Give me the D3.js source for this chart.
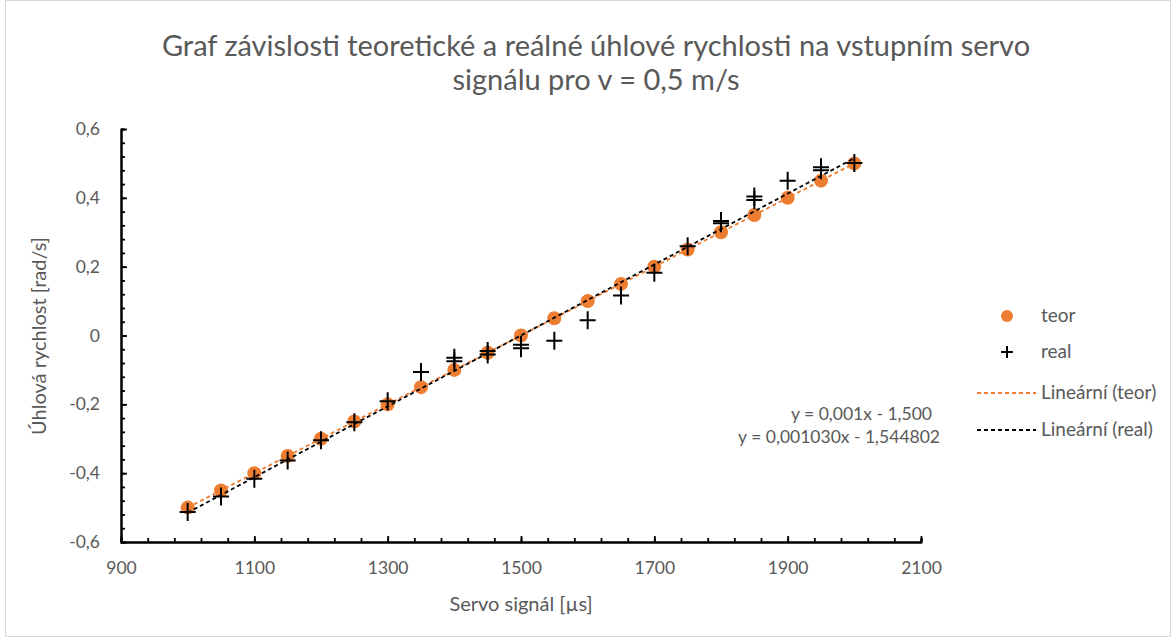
<!DOCTYPE html>
<html><head><meta charset="utf-8">
<script src="https://cdn.jsdelivr.net/npm/d3@7"></script>
<style>
html,body{margin:0;padding:0;background:#fff;}
text{font-family:Lato,"Open Sans",sans-serif;}
</style>
</head><body>
<svg id="chart" width="1176" height="639"></svg>
<script>
// ---------- DATA ----------
const titleLines = ["Graf závislosti teoretické a reálné úhlové rychlosti na vstupním servo", "signálu pro v = 0,5 m/s"];
const xTitle = "Servo signál [µs]";
const yTitle = "Úhlová rychlost [rad/s]";
const xTicks = [900, 1100, 1300, 1500, 1700, 1900, 2100];
const yTicks = [-0.6, -0.4, -0.2, 0, 0.2, 0.4, 0.6];
const teorX = [1000,1050,1100,1150,1200,1250,1300,1350,1400,1450,1500,1550,1600,1650,1700,1750,1800,1850,1900,1950,2000];
const teorY = [-0.50,-0.45,-0.40,-0.35,-0.30,-0.25,-0.20,-0.15,-0.10,-0.05,0.00,0.05,0.10,0.15,0.20,0.25,0.30,0.35,0.40,0.45,0.50];
const realX = [1000,1050,1100,1150,1200,1250,1300,1350,1400,1400,1450,1450,1500,1500,1550,1600,1650,1700,1750,1800,1800,1850,1850,1900,1950,1950,2000];
const realY = [-0.513,-0.468,-0.416,-0.363,-0.304,-0.252,-0.191,-0.106,-0.065,-0.075,-0.045,-0.055,-0.027,-0.037,-0.015,0.044,0.116,0.182,0.259,0.326,0.333,0.394,0.404,0.450,0.480,0.489,0.501];
const seriesNames = ["teor", "real", "Lineární (teor)", "Lineární (real)"];
const trendSlope = [0.001, 0.001030];
const trendIntercept = [-1.5, -1.544802];
const trendLabels = ["y = 0,001x - 1,500", "y = 0,001030x - 1,544802"];

// ---------- SETUP ----------
const svg = d3.select("#chart");
const orange = "#ED7D31", grey = "#595959";

svg.append("rect").attr("x",5.5).attr("y",0.5).attr("width",1165).attr("height",636)
  .attr("fill","#fff").attr("stroke","#D9D9D9").attr("stroke-width",1);

const x = d3.scaleLinear().domain([900,2100]).range([121,921]);
const y = d3.scaleLinear().domain([-0.6,0.6]).range([542,129]);

const loc = d3.formatLocale({decimal:",", thousands:" ", grouping:[3], currency:["",""], minus:"-"});
const fmtY = d => d === 0 ? "0" : loc.format(".1f")(d);

// Title
svg.append("g").selectAll("text").data(titleLines).join("text")
  .attr("x", 596).attr("y",(d,i)=>56+i*34)
  .attr("text-anchor","middle").attr("fill",grey).attr("font-size",29)
  .text(d=>d);

// minor ticks
const xMinor = d3.range(900, 2100.1, 40);
const yMinor = d3.range(-0.6, 0.6001, 0.04);

const gx = svg.append("g").attr("transform",`translate(0,${y(-0.6)})`);
gx.call(d3.axisBottom(x).tickValues(xMinor).tickSize(-4).tickFormat(""));
gx.selectAll("text").remove();
const gx2 = svg.append("g").attr("transform",`translate(0,${y(-0.6)})`);
gx2.call(d3.axisBottom(x).tickValues(xTicks).tickSizeInner(-6).tickSizeOuter(0).tickPadding(20).tickFormat(d3.format("d")));

const gy = svg.append("g").attr("transform",`translate(${x(900)},0)`);
gy.call(d3.axisLeft(y).tickValues(yMinor).tickSize(-4).tickFormat(""));
const gy2 = svg.append("g").attr("transform",`translate(${x(900)},0)`);
gy2.call(d3.axisLeft(y).tickValues(yTicks).tickSizeInner(-6).tickSizeOuter(0).tickPadding(21).tickFormat(fmtY));

[gx,gx2,gy,gy2].forEach(g=>{
  g.selectAll("path.domain").attr("stroke","#000").attr("stroke-width",2);
  g.selectAll(".tick line").attr("stroke","#000").attr("stroke-width",1.8);
  g.selectAll("text").attr("fill",grey).attr("font-size",17.5).attr("font-family","Lato");
});
gx2.selectAll("text").attr("dy","0.71em");

// axis titles
svg.append("text").attr("x",521).attr("y",611).attr("text-anchor","middle")
  .attr("fill",grey).attr("font-size",20).text(xTitle);
svg.append("text").attr("transform","translate(46,336) rotate(-90)").attr("text-anchor","middle")
  .attr("fill",grey).attr("font-size",20).text(yTitle);

// trend lines
const trendColors = [orange, "#000"];
const trendData = [0,1].map(i=>[1000,2000].map(v=>({x:v, y:trendSlope[i]*v+trendIntercept[i]})));
const line = d3.line().x(d=>x(d.x)).y(d=>y(d.y));

// teor points
svg.append("g").selectAll("circle").data(teorX.map((v,i)=>({x:v,y:teorY[i]}))).join("circle")
  .attr("cx",d=>x(d.x)).attr("cy",d=>y(d.y)).attr("r",7).attr("fill",orange);

svg.append("g").selectAll("path").data(trendData).join("path")
  .attr("d",line).attr("fill","none").attr("stroke",(d,i)=>trendColors[i])
  .attr("stroke-width",1.8).attr("stroke-dasharray","4,3");

// real points (plus)
const realG = svg.append("g");
realX.forEach((v,i)=>{
  const cx = x(v), cy = y(realY[i]);
  realG.append("path").attr("d",`M${cx-8},${cy}H${cx+8}M${cx},${cy-9}V${cy+9}`)
    .attr("stroke","#000").attr("stroke-width",2).attr("fill","none");
});

// equations
svg.append("g").selectAll("text").data(trendLabels).join("text")
  .attr("x",(d,i)=>[932,940][i]).attr("y",(d,i)=>420+i*23)
  .attr("text-anchor","end").attr("fill",grey).attr("font-size",17.5).text(d=>d);

// legend
const lg = svg.append("g");
const ly = [316, 352, 393, 430];
lg.append("circle").attr("cx",1007).attr("cy",ly[0]).attr("r",6).attr("fill",orange);
lg.append("path").attr("d",`M${1001},${ly[1]}H${1013}M${1007},${ly[1]-6}V${ly[1]+6}`).attr("stroke","#000").attr("stroke-width",2);
lg.append("line").attr("x1",977).attr("x2",1036).attr("y1",ly[2]).attr("y2",ly[2]).attr("stroke",orange).attr("stroke-width",1.8).attr("stroke-dasharray","4,3");
lg.append("line").attr("x1",977).attr("x2",1036).attr("y1",ly[3]).attr("y2",ly[3]).attr("stroke","#000").attr("stroke-width",1.8).attr("stroke-dasharray","4,3");
lg.selectAll("text").data(seriesNames).join("text")
  .attr("x",1041).attr("y",(d,i)=>ly[i]+6).attr("fill",grey).attr("font-size",19).text(d=>d);
</script>
</body></html>
